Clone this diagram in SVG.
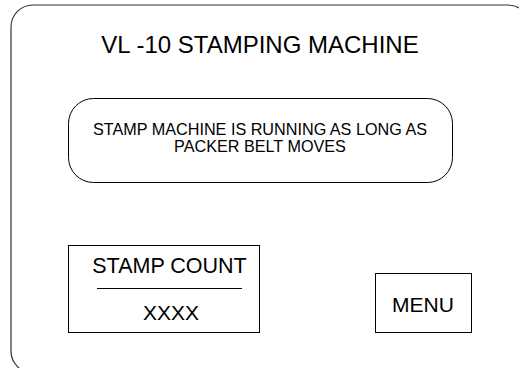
<svg xmlns="http://www.w3.org/2000/svg" width="519" height="368" viewBox="0 0 519 368">
<style>
.box{fill:#fff;stroke:#000;stroke-width:1}
.frame{fill:#fff;stroke:#333;stroke-width:1.2}
text{font-family:"Liberation Sans",Arial,sans-serif;fill:#000;text-anchor:middle}
</style>
<rect width="519" height="368" fill="#fff"/>
<g id="frame">
<rect class="frame" x="11" y="5" width="519" height="368" rx="22" ry="22"/>
<text x="260" y="53" font-size="24">VL -10 STAMPING MACHINE</text>
</g>
<g id="status">
<rect class="box" x="68.5" y="98.5" width="384" height="84" rx="25" ry="25"/>
<text x="260" y="135" font-size="16.2">STAMP MACHINE IS RUNNING AS LONG AS</text>
<text x="260" y="152" font-size="16.2">PACKER BELT MOVES</text>
</g>
<g id="stamp-count">
<rect class="box" x="68.5" y="245.5" width="191" height="87"/>
<text x="169.5" y="273" font-size="21.5">STAMP COUNT</text>
<line x1="97" y1="288.5" x2="242" y2="288.5" stroke="#000" stroke-width="1"/>
<text x="171" y="320" font-size="21">XXXX</text>
</g>
<g id="menu">
<rect class="box" x="375.5" y="273.5" width="96" height="59"/>
<text x="423" y="312" font-size="21">MENU</text>
</g>
<g id="connectors"/>
</svg>
